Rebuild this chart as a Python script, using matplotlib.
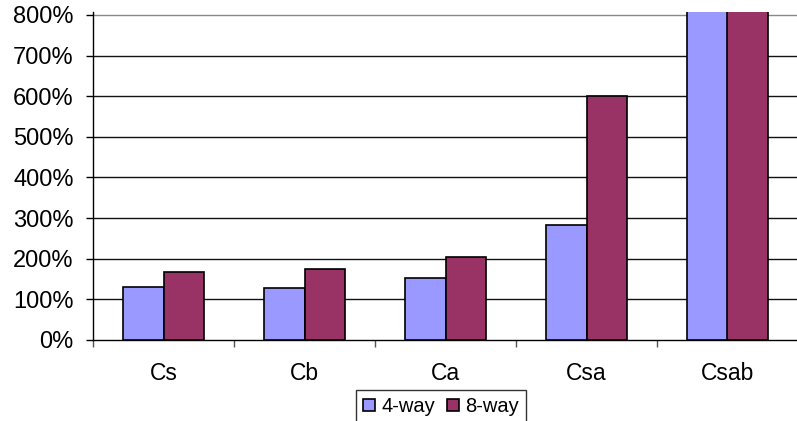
import matplotlib
matplotlib.use('Agg')
import matplotlib.pyplot as plt
import numpy as np

plt.rcParams['font.family'] = ['Liberation Sans', 'DejaVu Sans']

categories = ['Cs', 'Cb', 'Ca', 'Csa', 'Csab']
way4 = [131, 129, 153, 283, 1100]   # Csab runs off the top of the scale
way8 = [168, 175, 204, 600, 1100]
yticks = [0, 100, 200, 300, 400, 500, 600, 700, 800]

C4 = '#9999FF'
C8 = '#993366'

fig = plt.figure(figsize=(7.97, 4.21), dpi=100)
ax = fig.add_axes([93 / 797, 81 / 421, 705 / 797, (340 - 11.7) / 421])

x = np.arange(len(categories))
w = 0.29
ax.bar(x - w / 2, way4, w, color=C4, edgecolor='black', lw=1.2, label='4-way', zorder=3)
ax.bar(x + w / 2, way8, w, color=C8, edgecolor='black', lw=1.2, label='8-way', zorder=3)

ax.set_xlim(-0.5, len(categories) - 0.5)
ax.set_ylim(0, 808)

# horizontal gridlines, top one lighter
for v in yticks[1:-1]:
    ax.axhline(v, color='#111111', lw=1.0, zorder=1)
ax.axhline(800, color='#888888', lw=1.0, zorder=1)

for s in ('top', 'right'):
    ax.spines[s].set_visible(False)
ax.spines['left'].set_linewidth(1.0)
ax.spines['bottom'].set_linewidth(1.0)

ax.set_yticks(yticks)
ax.set_yticklabels([f'{v}%' for v in yticks], fontsize=17)
ax.tick_params(axis='y', direction='out', length=5, width=1, pad=9)

ax.set_xticks(x)
ax.set_xticklabels(categories, fontsize=16.5)
ax.tick_params(axis='x', length=0, pad=16)
ax.set_xticks(np.arange(len(categories) + 1) - 0.5, minor=True)
ax.tick_params(axis='x', which='minor', direction='out', length=5, width=1, color='#555555')

leg = fig.legend(loc='upper left', bbox_to_anchor=(356 / 797, 1 - 390 / 421),
                 ncol=2, fontsize=14.5, frameon=True, fancybox=False,
                 handlelength=0.6, handleheight=0.6, handletextpad=0.3,
                 columnspacing=0.6, borderpad=0.35, borderaxespad=0)
leg.get_frame().set_edgecolor('black')
leg.get_frame().set_linewidth(1.0)

fig.savefig('out.png', dpi=100)
